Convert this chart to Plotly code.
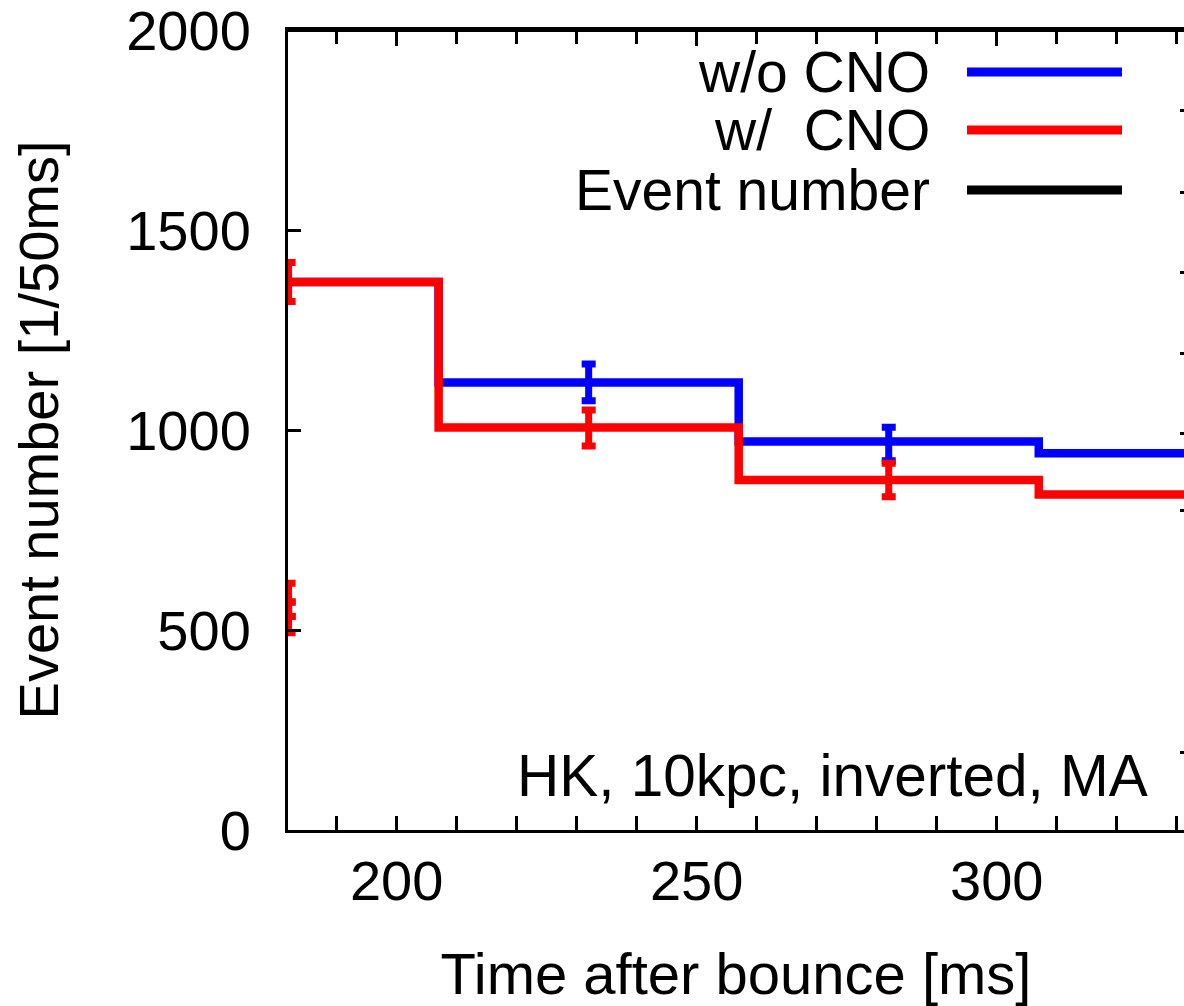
import plotly.graph_objects as go

# ---------------- data ----------------
bin_edges = [157, 207, 257, 307, 357]          # ms
blue_counts = [1370, 1119, 971, 942]            # w/o CNO
red_counts = [1370, 1006, 875, 839]             # w/  CNO

blue_err_x = [182, 232, 282]
blue_err_y = [552, 1119, 965]
blue_err = [18, 46, 42]

red_err_x = [182, 182, 182, 232, 282]
red_err_y = [1370, 555, 552, 1005, 875]
red_err = [49, 62, 18, 45, 42]

legend_labels = ["w/o CNO", "w/  CNO", "Event number"]
legend_colors = ["#0000ff", "#ff0000", "#000000"]
note_text = "HK, 10kpc, inverted, MA"

x_title = "Time after bounce [ms]"
y_title = "Event number [1/50ms]"
y_ticks = [0, 500, 1000, 1500, 2000]
x_ticks = [200, 250, 300]
right_ticks = [195, 800, 992, 1192, 1395, 1595, 1800]

X_RANGE = [181.9, 331.2]
Y_RANGE = [0, 2000]

FONT = "Liberation Sans, Arial, sans-serif"

fig = go.Figure()


def step_y(vals):
    return list(vals) + [vals[-1]]


fig.add_trace(go.Scatter(x=blue_err_x, y=blue_err_y, mode="markers",
                         marker=dict(size=1, color="#0000ff"),
                         error_y=dict(type="data", array=blue_err, color="#0000ff",
                                      thickness=7, width=7),
                         cliponaxis=False, showlegend=False))
fig.add_trace(go.Scatter(x=bin_edges, y=step_y(blue_counts), mode="lines",
                         line=dict(shape="hv", color="#0000ff", width=8.5),
                         name=legend_labels[0], showlegend=False))
fig.add_trace(go.Scatter(x=red_err_x, y=red_err_y, mode="markers",
                         marker=dict(size=1, color="#ff0000"),
                         error_y=dict(type="data", array=red_err, color="#ff0000",
                                      thickness=7, width=7),
                         cliponaxis=False, showlegend=False))
fig.add_trace(go.Scatter(x=bin_edges, y=step_y(red_counts), mode="lines",
                         line=dict(shape="hv", color="#ff0000", width=8.5),
                         name=legend_labels[1], showlegend=False))
# empty traces so that the top / right tick axes are drawn
fig.add_trace(go.Scatter(x=[None], y=[None], xaxis="x2", yaxis="y",
                         mode="lines", showlegend=False, hoverinfo="skip"))
fig.add_trace(go.Scatter(x=[None], y=[None], xaxis="x", yaxis="y2",
                         mode="lines", showlegend=False, hoverinfo="skip"))

L, R, T, B = 288, 0, 30, 176
W, H = 1184, 1006
pw, ph = W - L - R, H - T - B


def px_x(px):
    return (px - L) / pw


def px_y(py):
    return (H - B - py) / ph


# gnuplot-style key: right-aligned text followed by line sample
rows_y = [72, 130, 190]
for lab, col, ry in zip(legend_labels, legend_colors, rows_y):
    fig.add_annotation(x=px_x(932), y=px_y(ry), xref="paper", yref="paper",
                       text=lab, showarrow=False, xanchor="right", yanchor="middle",
                       font=dict(family=FONT, size=57, color="black"))
    fig.add_shape(type="line", xref="paper", yref="paper",
                  x0=px_x(967), x1=px_x(1122), y0=px_y(ry), y1=px_y(ry),
                  line=dict(color=col, width=9))

fig.add_annotation(x=px_x(1150), y=px_y(775), xref="paper", yref="paper",
                   text=note_text, showarrow=False, xanchor="right", yanchor="middle",
                   font=dict(family=FONT, size=58.5, color="black"))

minor_x = dict(dtick=10, tick0=0, ticks="inside", ticklen=7,
               tickwidth=2.5, tickcolor="black")

fig.update_layout(
    width=W, height=H,
    margin=dict(l=L, r=R, t=T, b=B, pad=0),
    plot_bgcolor="white", paper_bgcolor="white",
    font=dict(family=FONT, size=56, color="black"),
    showlegend=False,
    xaxis=dict(range=X_RANGE, tickvals=x_ticks, ticks="inside",
               ticklen=14, tickwidth=2.5, tickcolor="black",
               minor=minor_x,
               showline=True, linecolor="black", linewidth=3, mirror="allticks",
               showgrid=False, zeroline=False,
               ticklabelstandoff=0, ticklabeloverflow="allow",
               tickfont=dict(family=FONT, size=56),
               title=dict(text=x_title, font=dict(family=FONT, size=58), standoff=47)),
    xaxis2=dict(range=X_RANGE, overlaying="x", side="top", anchor="free",
                position=1.0,
                tickvals=x_ticks, ticks="inside", ticklen=14, tickwidth=2.5,
                tickcolor="black", minor=minor_x,
                showticklabels=False, showline=True, linecolor="black",
                linewidth=3, showgrid=False, zeroline=False),
    yaxis=dict(range=Y_RANGE, tickvals=y_ticks, ticks="inside",
               ticklen=13, tickwidth=2.5, tickcolor="black",
               showline=True, linecolor="black", linewidth=3, mirror=False,
               showgrid=False, zeroline=False,
               ticklabelstandoff=23, ticklabeloverflow="allow",
               tickfont=dict(family=FONT, size=56),
               title=dict(text=y_title, font=dict(family=FONT, size=56), standoff=50)),
    yaxis2=dict(range=Y_RANGE, overlaying="y", side="right", anchor="x",
                tickvals=right_ticks, ticks="inside", ticklen=4, tickwidth=3,
                tickcolor="black", showticklabels=False, showline=False,
                showgrid=False, zeroline=False),
)

fig.write_html("out.html")
